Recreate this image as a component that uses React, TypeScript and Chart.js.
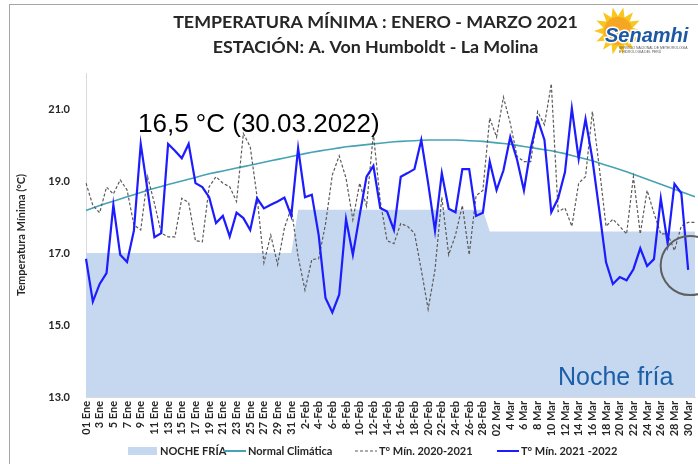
import React, { useEffect, useRef } from "react";
import { Chart, registerables } from "chart.js";

Chart.register(...registerables);

const categories = [
  "01 Ene", "2 Ene", "3 Ene", "4 Ene", "5 Ene", "6 Ene", "7 Ene", "8 Ene", "9 Ene", "10 Ene",
  "11 Ene", "12 Ene", "13 Ene", "14 Ene", "15 Ene", "16 Ene", "17 Ene", "18 Ene", "19 Ene", "20 Ene",
  "21 Ene", "22 Ene", "23 Ene", "24 Ene", "25 Ene", "26 Ene", "27 Ene", "28 Ene", "29 Ene", "30 Ene", "31 Ene",
  "1-Feb", "2-Feb", "3-Feb", "4-Feb", "5-Feb", "6-Feb", "7-Feb", "8-Feb", "9-Feb", "10-Feb",
  "11-Feb", "12-Feb", "13-Feb", "14-Feb", "15-Feb", "16-Feb", "17-Feb", "18-Feb", "19-Feb", "20-Feb",
  "21-Feb", "22-Feb", "23-Feb", "24-Feb", "25-Feb", "26-Feb", "27-Feb", "28-Feb",
  "01 Mar", "02 Mar", "3 Mar", "4 Mar", "5 Mar", "6 Mar", "7 Mar", "8 Mar", "9 Mar", "10 Mar",
  "11 Mar", "12 Mar", "13 Mar", "14 Mar", "15 Mar", "16 Mar", "17 Mar", "18 Mar", "19 Mar", "20 Mar",
  "21 Mar", "22 Mar", "23 Mar", "24 Mar", "25 Mar", "26 Mar", "27 Mar", "28 Mar", "29 Mar", "30 Mar", "31 Mar",
];

const yTickValues = [13, 15, 17, 19, 21];

const nocheFria = [
  17.0, 17.0, 17.0, 17.0, 17.0, 17.0, 17.0, 17.0, 17.0, 17.0,
  17.0, 17.0, 17.0, 17.0, 17.0, 17.0, 17.0, 17.0, 17.0, 17.0,
  17.0, 17.0, 17.0, 17.0, 17.0, 17.0, 17.0, 17.0, 17.0, 17.0, 17.0,
  18.2, 18.2, 18.2, 18.2, 18.2, 18.2, 18.2, 18.2, 18.2, 18.2,
  18.2, 18.2, 18.2, 18.2, 18.2, 18.2, 18.2, 18.2, 18.2, 18.2,
  18.2, 18.2, 18.2, 18.2, 18.2, 18.2, 18.2, 18.2,
  17.6, 17.6, 17.6, 17.6, 17.6, 17.6, 17.6, 17.6, 17.6, 17.6,
  17.6, 17.6, 17.6, 17.6, 17.6, 17.6, 17.6, 17.6, 17.6, 17.6,
  17.6, 17.6, 17.6, 17.6, 17.6, 17.6, 17.6, 17.6, 17.6, 17.6, 17.6,
];

const normalClimatica = [
  18.18, 18.25, 18.32, 18.38, 18.44, 18.50, 18.56, 18.62, 18.68, 18.74,
  18.80, 18.85, 18.90, 18.95, 19.00, 19.05, 19.10, 19.15, 19.20, 19.24,
  19.28, 19.32, 19.36, 19.40, 19.44, 19.48, 19.52, 19.56, 19.60, 19.64, 19.68,
  19.72, 19.76, 19.80, 19.83, 19.86, 19.89, 19.92, 19.95, 19.97, 19.99,
  20.01, 20.03, 20.05, 20.07, 20.09, 20.10, 20.11, 20.12, 20.13, 20.14,
  20.14, 20.14, 20.14, 20.14, 20.13, 20.12, 20.11, 20.10,
  20.08, 20.06, 20.04, 20.02, 19.99, 19.96, 19.93, 19.90, 19.87, 19.84,
  19.80, 19.76, 19.71, 19.66, 19.61, 19.56, 19.50, 19.44, 19.38, 19.32,
  19.26, 19.19, 19.12, 19.05, 18.98, 18.91, 18.84, 18.77, 18.70, 18.63, 18.56,
];

const tMin20202021 = [
  18.94, 18.32, 18.12, 18.83, 18.64, 19.03, 18.75, 17.78, 17.64, 19.12,
  18.38, 17.55, 17.45, 17.45, 18.52, 18.40, 17.34, 17.31, 18.84, 19.12,
  18.94, 18.84, 18.43, 20.32, 19.95, 18.56, 16.73, 17.50, 16.68, 17.70, 18.25,
  16.90, 15.97, 16.82, 16.84, 17.80, 19.17, 19.70, 19.08, 17.92, 18.94,
  18.30, 20.32, 18.45, 17.34, 17.26, 17.82, 17.74, 17.55, 16.53, 15.44,
  16.53, 18.55, 16.95, 17.50, 18.32, 16.95, 18.59, 18.74,
  20.75, 20.22, 21.33, 20.61, 19.68, 19.54, 19.54, 20.93, 20.56, 21.70,
  18.15, 18.25, 17.74, 18.94, 19.12, 20.93, 19.40, 17.74, 17.94, 17.74,
  17.53, 19.12, 17.53, 18.74, 18.11, 17.53, 17.53, 17.07, 17.75, 17.85, 17.85,
];

const tMin20212022 = [
  16.84, 15.65, 16.14, 16.44, 18.34, 16.95, 16.75, 17.62, 20.03, 18.74,
  17.44, 17.55, 20.03, 19.84, 19.63, 20.03, 18.94, 18.83, 18.55, 17.83,
  18.03, 17.46, 18.12, 17.97, 17.64, 18.52, 18.24, 18.34, 18.43, 18.54, 18.03,
  19.91, 18.55, 18.62, 17.50, 15.75, 15.35, 15.84, 17.94, 16.95, 18.06,
  19.12, 19.42, 18.25, 18.15, 17.64, 19.12, 19.22, 19.33, 20.14, 18.94,
  17.62, 19.22, 18.23, 18.13, 19.33, 19.33, 18.03, 18.12,
  19.54, 18.75, 19.29, 20.22, 19.59, 18.74, 19.91, 20.72, 20.14, 18.13,
  18.52, 19.25, 21.02, 19.62, 20.72, 19.61, 18.20, 16.74, 16.14, 16.33,
  16.24, 16.55, 17.13, 16.64, 16.83, 18.52, 17.27, 18.92, 18.66, 16.53,
];

const titleLines = ["TEMPERATURA MÍNIMA : ENERO - MARZO 2021", "ESTACIÓN: A. Von Humboldt - La Molina"];
const yAxisTitle = "Temperatura Mínima (°C)";
const noteText = "16,5 °C (30.03.2022)";
const frioText = "Noche fría";

const COLORS = {
  fill: "#c6d8f0",
  normal: "#45a3b4",
  prev: "#5a5a5a",
  curr: "#1c1cff",
  text: "#262626",
};

const legendItems = [
  { label: "NOCHE FRÍA", kind: "box", color: COLORS.fill, x: 128 },
  { label: "Normal Climática", kind: "line", color: COLORS.normal, x: 224 },
  { label: "T° Mín. 2020-2021", kind: "dash", color: COLORS.prev, x: 355 },
  { label: "T° Mín. 2021 -2022", kind: "line2", color: COLORS.curr, x: 497 },
];

const overlayPlugin = {
  id: "overlay",
  afterDraw(chart: any) {
    const ctx = chart.ctx as CanvasRenderingContext2D;
    const xs = chart.scales.x;
    const ys = chart.scales.y;
    ctx.save();

    ctx.fillStyle = COLORS.text;
    ctx.textAlign = "center";
    ctx.textBaseline = "middle";
    ctx.font = 'bold 17px "Lato"';
    const w1 = ctx.measureText(titleLines[0]).width;
    const fs = 17 * 405 / w1;
    ctx.font = `bold ${fs}px "Lato"`;
    ctx.fillText(titleLines[0], 375.5, 22);
    ctx.fillText(titleLines[1], 375.5, 47);

    ctx.textAlign = "left";
    ctx.textBaseline = "alphabetic";
    ctx.fillStyle = "#000000";
    ctx.font = '26px "Liberation Sans"';
    ctx.fillText(noteText, 138, 132);

    ctx.fillStyle = "#1b5fa9";
    ctx.font = '25px "Liberation Sans"';
    ctx.fillText(frioText, 558, 385);

    const cx = xs.getPixelForValue(88) + 2;
    const cy = ys.getPixelForValue(16.65);
    ctx.beginPath();
    ctx.strokeStyle = "#5f5f5f";
    ctx.lineWidth = 2;
    ctx.arc(cx, cy, 29.5, 0, Math.PI * 2);
    ctx.stroke();

    const ly = 451;
    ctx.font = 'bold 11px "Lato"';
    ctx.textBaseline = "middle";
    legendItems.forEach((it) => {
      if (it.kind === "box") {
        ctx.fillStyle = it.color;
        ctx.fillRect(it.x, ly - 4, 29, 8);
        ctx.fillStyle = COLORS.text;
        ctx.fillText(it.label, it.x + 32, ly);
      } else {
        ctx.beginPath();
        ctx.strokeStyle = it.color;
        ctx.lineWidth = it.kind === "dash" ? 1.2 : 2;
        ctx.setLineDash(it.kind === "dash" ? [3, 2] : []);
        ctx.moveTo(it.x, ly);
        ctx.lineTo(it.x + 22, ly);
        ctx.stroke();
        ctx.setLineDash([]);
        ctx.fillStyle = COLORS.text;
        ctx.fillText(it.label, it.x + 24, ly);
      }
    });
    ctx.restore();
  },
};

function Logo() {
  const rays: string[] = [];
  const cx = 26, cy = 25;
  for (let k = 0; k < 28; k++) {
    const a = (k / 28) * Math.PI * 2;
    const r = k % 2 === 0 ? 24 : 15;
    rays.push(`${(cx + r * Math.cos(a)).toFixed(1)},${(cy + r * Math.sin(a)).toFixed(1)}`);
  }
  return (
    <svg style={{ position: "absolute", left: 592, top: 6 }} width={104} height={54}>
      <polygon points={rays.join(" ")} fill="#f8c61c" />
      <circle cx={cx} cy={cy} r={14} fill="#f5a623" />
      <text x={13} y={36} fontFamily="Liberation Sans" fontWeight="bold" fontStyle="italic" fontSize={20}
        fill="#1d58a4" stroke="#ffffff" strokeWidth={3} paintOrder="stroke">Senamhi</text>
      <text x={27} y={43} fontFamily="Liberation Sans" fontSize={3.4} fill="#555">SERVICIO NACIONAL DE METEOROLOGÍA</text>
      <text x={27} y={47} fontFamily="Liberation Sans" fontSize={3.4} fill="#555">E HIDROLOGÍA DEL PERÚ</text>
    </svg>
  );
}

export default function App() {
  const ref = useRef<HTMLCanvasElement | null>(null);
  useEffect(() => {
    if (!ref.current) return;
    const tickFont = { family: "Lato", weight: "bold" as const, size: 11 };
    const chart = new Chart(ref.current, {
      type: "line",
      data: {
        labels: categories,
        datasets: [
          { label: "T° Mín. 2021 -2022", data: tMin20212022, borderColor: COLORS.curr, borderWidth: 2.2, pointRadius: 0, fill: false, tension: 0, order: 1 },
          { label: "T° Mín. 2020-2021", data: tMin20202021, borderColor: COLORS.prev, borderWidth: 1.2, borderDash: [3, 2], pointRadius: 0, fill: false, tension: 0, order: 2 },
          { label: "Normal Climática", data: normalClimatica, borderColor: COLORS.normal, borderWidth: 1.6, pointRadius: 0, fill: false, tension: 0, order: 3 },
          { label: "NOCHE FRÍA", data: nocheFria, borderColor: "rgba(0,0,0,0)", borderWidth: 0, backgroundColor: COLORS.fill, fill: "start", pointRadius: 0, tension: 0, order: 4 },
        ],
      },
      options: {
        responsive: false,
        animation: false,
        layout: { padding: { top: 73, right: 3, left: 0, bottom: 0 }, autoPadding: false },
        plugins: { legend: { display: false }, title: { display: false }, tooltip: { enabled: false } },
        scales: {
          x: {
            type: "category",
            grid: { display: false, drawTicks: false },
            border: { display: true, color: "#d9d9d9", width: 1 },
            ticks: {
              autoSkip: false,
              minRotation: 90,
              maxRotation: 90,
              padding: 4,
              font: tickFont,
              color: COLORS.text,
              callback: (_v: any, i: number) => (i % 2 === 0 ? categories[i] : ""),
            },
            afterFit: (s: any) => { s.height = 67; s.paddingLeft = 0; s.paddingRight = 0; },
          },
          y: {
            min: 13,
            max: 22,
            grid: { display: false, drawTicks: false },
            border: { display: true, color: "#d9d9d9", width: 1 },
            afterBuildTicks: (s: any) => { s.ticks = yTickValues.map((v) => ({ value: v })); },
            ticks: {
              padding: 16,
              font: tickFont,
              color: COLORS.text,
              callback: (v: any) => Number(v).toFixed(1),
            },
            title: { display: true, text: yAxisTitle, font: tickFont, color: COLORS.text, padding: { top: 15, bottom: 0 } },
            afterFit: (s: any) => { s.width = 86; s.paddingTop = 0; s.paddingBottom = 0; },
          },
        },
      },
      plugins: [overlayPlugin],
    });
    return () => chart.destroy();
  }, []);

  return (
    <div style={{ position: "fixed", left: 0, top: 0, width: 698, height: 464, overflow: "hidden", background: "#ffffff" }}>
      <div style={{ position: "absolute", left: 9, top: 4, width: 720, height: 500, border: "1px solid #a6a6a6" }} />
      <canvas ref={ref} width={698} height={464} style={{ position: "absolute", left: 0, top: 0 }} />
      <Logo />
    </div>
  );
}
